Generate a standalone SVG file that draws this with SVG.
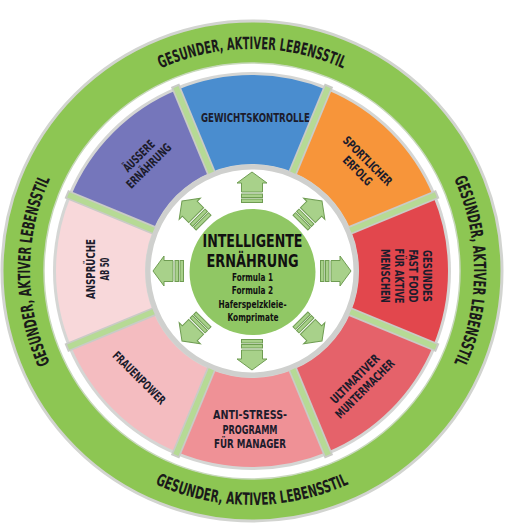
<svg xmlns="http://www.w3.org/2000/svg" xmlns:xlink="http://www.w3.org/1999/xlink" width="505" height="524" viewBox="0 0 505 524">
<style>
.t{font-family:"Liberation Sans Narrow","DejaVu Sans Condensed","Liberation Sans",sans-serif;font-weight:bold;fill:#1c1c2c;text-anchor:middle}
.seg{font-size:12px}
.ring{font-size:17px;fill:#1a1a1a}
.arrow{fill:#a8d18a;stroke:#6f9c52;stroke-width:1}
</style>
<defs>
<path id="pTop" d="M 30 271 A 222 222 0 0 1 474 271"/>
<path id="pRight" d="M 252 49 A 222 222 0 0 1 252 493"/>
<path id="pLeft" d="M 252 493 A 222 222 0 0 1 252 49"/>
<path id="pBottom" d="M 18 271 A 234 234 0 0 0 486 271"/>
<g id="sep">
<line x1="252" y1="167" x2="252" y2="70" stroke="#c9cbc6" stroke-width="9"/>
<line x1="252" y1="167" x2="252" y2="72" stroke="#b6da95" stroke-width="5.5"/>
</g>
<g id="arr" class="arrow">
<path d="M252 172 L267 183 L262.5 183 L262.5 192 L241.5 192 L241.5 183 L237 183 Z"/>
<rect x="241.5" y="194" width="21" height="3.5"/>
<rect x="241.5" y="199" width="21" height="3.5"/>
</g>
</defs>
<rect width="505" height="524" fill="#ffffff"/>
<g id="outer-ring">
<circle cx="252" cy="271" r="250" fill="#8dc653" stroke="#d2d4d0" stroke-width="3"/>
<circle cx="252" cy="271" r="208" fill="#ffffff" stroke="#c8d8bc" stroke-width="1.5"/>
<circle cx="252" cy="271" r="199" fill="#d5d6d4"/>
<text class="t ring"><textPath xlink:href="#pTop" startOffset="50%" textLength="188" lengthAdjust="spacingAndGlyphs">GESUNDER, AKTIVER LEBENSSTIL</textPath></text>
<text class="t ring"><textPath xlink:href="#pRight" startOffset="50%" textLength="190" lengthAdjust="spacingAndGlyphs">GESUNDER, AKTIVER LEBENSSTIL</textPath></text>
<text class="t ring"><textPath xlink:href="#pLeft" startOffset="50%" textLength="190" lengthAdjust="spacingAndGlyphs">GESUNDER, AKTIVER LEBENSSTIL</textPath></text>
<text class="t ring"><textPath xlink:href="#pBottom" startOffset="50%" textLength="200" lengthAdjust="spacingAndGlyphs">GESUNDER, AKTIVER LEBENSSTIL</textPath></text>
</g>
<g id="seg-gewichtskontrolle">
<path d="M176.99 89.92 A196 196 0 0 1 327.01 89.92 L292.95 172.14 A107 107 0 0 0 211.05 172.14 Z" fill="#4a8dcf"/>
<text class="t seg" x="255.5" y="121.5" textLength="109" lengthAdjust="spacingAndGlyphs">GEWICHTSKONTROLLE</text>
</g>
<g id="seg-sportlicher-erfolg">
<path d="M327.01 89.92 A196 196 0 0 1 433.08 195.99 L350.86 230.05 A107 107 0 0 0 292.95 172.14 Z" fill="#f7953a"/>
<g transform="translate(362.5 166) rotate(45)">
<text class="t seg" x="0" y="-3" textLength="64" lengthAdjust="spacingAndGlyphs">SPORTLICHER</text>
<text class="t seg" x="0" y="11" textLength="36" lengthAdjust="spacingAndGlyphs">ERFOLG</text>
</g>
</g>
<g id="seg-fast-food">
<path d="M433.08 195.99 A196 196 0 0 1 433.08 346.01 L350.86 311.95 A107 107 0 0 0 350.86 230.05 Z" fill="#e2474d"/>
<g transform="translate(406 276) rotate(90)">
<text class="t seg" x="0" y="-17" textLength="52" lengthAdjust="spacingAndGlyphs">GESUNDES</text>
<text class="t seg" x="0" y="-3" textLength="53" lengthAdjust="spacingAndGlyphs">FAST FOOD</text>
<text class="t seg" x="0" y="11" textLength="55" lengthAdjust="spacingAndGlyphs">FÜR AKTIVE</text>
<text class="t seg" x="0" y="25" textLength="54" lengthAdjust="spacingAndGlyphs">MENSCHEN</text>
</g>
</g>
<g id="seg-muntermacher">
<path d="M433.08 346.01 A196 196 0 0 1 327.01 452.08 L292.95 369.86 A107 107 0 0 0 350.86 311.95 Z" fill="#e5626a"/>
<g transform="translate(360 384) rotate(-45)">
<text class="t seg" x="0" y="-3" textLength="64" lengthAdjust="spacingAndGlyphs">ULTIMATIVER</text>
<text class="t seg" x="0" y="11" textLength="78" lengthAdjust="spacingAndGlyphs">MUNTERMACHER</text>
</g>
</g>
<g id="seg-anti-stress">
<path d="M327.01 452.08 A196 196 0 0 1 176.99 452.08 L211.05 369.86 A107 107 0 0 0 292.95 369.86 Z" fill="#ef9196"/>
<text class="t seg" x="250" y="418.5" textLength="74" lengthAdjust="spacingAndGlyphs">ANTI-STRESS-</text>
<text class="t seg" x="250" y="433.5" textLength="55" lengthAdjust="spacingAndGlyphs">PROGRAMM</text>
<text class="t seg" x="250" y="447.5" textLength="72" lengthAdjust="spacingAndGlyphs">FÜR MANAGER</text>
</g>
<g id="seg-frauenpower">
<path d="M176.99 452.08 A196 196 0 0 1 70.92 346.01 L153.14 311.95 A107 107 0 0 0 211.05 369.86 Z" fill="#f4bcc0"/>
<text class="t seg" transform="translate(139 378) rotate(45)" x="0" y="4" textLength="69" lengthAdjust="spacingAndGlyphs">FRAUENPOWER</text>
</g>
<g id="seg-ansprueche">
<path d="M70.92 346.01 A196 196 0 0 1 70.92 195.99 L153.14 230.05 A107 107 0 0 0 153.14 311.95 Z" fill="#f8d8da"/>
<g transform="translate(97 269) rotate(-90)">
<text class="t seg" x="0" y="-2" textLength="60" lengthAdjust="spacingAndGlyphs">ANSPRÜCHE</text>
<text class="t seg" x="0" y="11.5" textLength="23" lengthAdjust="spacingAndGlyphs">AB 50</text>
</g>
</g>
<g id="seg-aeussere">
<path d="M70.92 195.99 A196 196 0 0 1 176.99 89.92 L211.05 172.14 A107 107 0 0 0 153.14 230.05 Z" fill="#7576bb"/>
<g transform="translate(144 161) rotate(-45)">
<text class="t seg" x="0" y="-3" textLength="39" lengthAdjust="spacingAndGlyphs">ÄUSSERE</text>
<text class="t seg" x="0" y="11" textLength="58" lengthAdjust="spacingAndGlyphs">ERNÄHRUNG</text>
</g>
</g>
<g id="connectors">
<use xlink:href="#sep" transform="rotate(-22.5 252 271)"/>
<use xlink:href="#sep" transform="rotate(22.5 252 271)"/>
<use xlink:href="#sep" transform="rotate(67.5 252 271)"/>
<use xlink:href="#sep" transform="rotate(112.5 252 271)"/>
<use xlink:href="#sep" transform="rotate(157.5 252 271)"/>
<use xlink:href="#sep" transform="rotate(202.5 252 271)"/>
<use xlink:href="#sep" transform="rotate(247.5 252 271)"/>
<use xlink:href="#sep" transform="rotate(292.5 252 271)"/>
</g>
<g id="hub">
<circle cx="252" cy="271" r="104" fill="#ffffff" stroke="#cfd0ce" stroke-width="5"/>
<use xlink:href="#arr"/>
<use xlink:href="#arr" transform="rotate(45 252 271)"/>
<use xlink:href="#arr" transform="rotate(90 252 271)"/>
<use xlink:href="#arr" transform="rotate(135 252 271)"/>
<use xlink:href="#arr" transform="rotate(180 252 271)"/>
<use xlink:href="#arr" transform="rotate(225 252 271)"/>
<use xlink:href="#arr" transform="rotate(270 252 271)"/>
<use xlink:href="#arr" transform="rotate(315 252 271)"/>
</g>
<g id="center">
<circle cx="252.5" cy="272" r="63" fill="#90c764"/>
<text class="t" style="font-size:18px;fill:#111" x="252.5" y="247" textLength="100" lengthAdjust="spacingAndGlyphs">INTELLIGENTE</text>
<text class="t" style="font-size:18px;fill:#111" x="252.5" y="266.5" textLength="92" lengthAdjust="spacingAndGlyphs">ERNÄHRUNG</text>
<text class="t" style="font-size:11px;fill:#111" x="252.5" y="280.5" textLength="41" lengthAdjust="spacingAndGlyphs">Formula 1</text>
<text class="t" style="font-size:11px;fill:#111" x="252.5" y="294" textLength="41.5" lengthAdjust="spacingAndGlyphs">Formula 2</text>
<text class="t" style="font-size:11px;fill:#111" x="252.5" y="308" textLength="68" lengthAdjust="spacingAndGlyphs">Haferspelzkleie-</text>
<text class="t" style="font-size:11px;fill:#111" x="253" y="320.5" textLength="51" lengthAdjust="spacingAndGlyphs">Komprimate</text>
</g>
</svg>
